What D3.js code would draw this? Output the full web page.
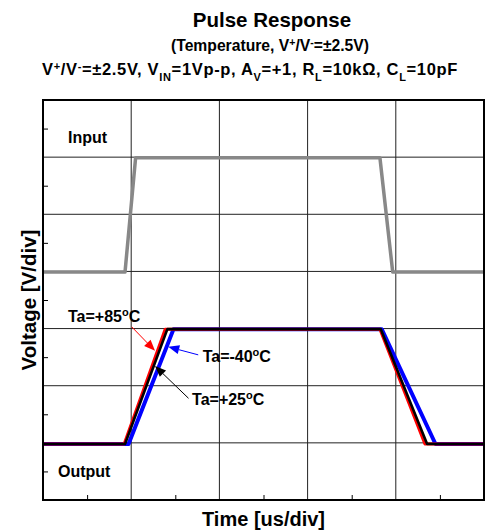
<!DOCTYPE html>
<html><head><meta charset="utf-8">
<script src="https://cdn.jsdelivr.net/npm/d3@7/dist/d3.min.js"></script>
<style>
body{margin:0;background:#fff;}
text{font-family:"Liberation Sans",Arial,Helvetica,sans-serif;font-weight:bold;fill:#000;}
</style></head>
<body><svg id="c" width="489" height="532"></svg>
<script>
// time in divisions, voltage in divisions (bottom = 0)
const inputTrace = [[0,3.99],[0.93,3.99],[1.05,5.99],[3.82,5.99],[3.965,3.99],[5,3.99]];
const out85 = [[0,0.98],[0.92,0.98],[1.385,2.99],[3.82,2.99],[4.33,0.98],[5,0.98]];
const out25 = [[0,0.98],[0.93,0.98],[1.41,2.99],[3.83,2.99],[4.355,0.98],[5,0.98]];
const outM40 = [[0,0.98],[0.97,0.98],[1.48,2.99],[3.84,2.99],[4.45,0.98],[5,0.98]];
const xDivs = [0,1,2,3,4,5];
const yDivs = [0,1,2,3,4,5,6,7];
const xMinor = [0.5,1.5,2.5,3.5,4.5];
const yMinor = [0.5,1.5,2.5,3.5,4.5,5.5,6.5];
const seriesNames = ["Ta=-40°C","Ta=+85°C","Ta=+25°C"];
const seriesColors = ["#0000ff","#ff0000","#000000"];
// annotation: label position and arrow tail/tip in data units
const annotations = [
  {label:"Ta=+85", color:"#ff0000", tx:0.283, ty:3.12, x1:1.006, y1:3.03, x2:1.27, y2:2.61},
  {label:"Ta=-40", color:"#0000ff", tx:1.81, ty:2.415, x1:1.76, y1:2.54, x2:1.42, y2:2.68},
  {label:"Ta=+25", color:"#000000", tx:1.69, ty:1.66, x1:1.65, y1:1.78, x2:1.27, y2:2.345}
];

const svg = d3.select("#c");
const L=43, R=484, T=100, B=500;
const x = d3.scaleLinear().domain([0,5]).range([L,R]);
const y = d3.scaleLinear().domain([0,7]).range([B,T]);

// grid
svg.append("g").selectAll("line").data(xDivs.slice(1,-1)).join("line")
  .attr("x1",d=>x(d)).attr("x2",d=>x(d)).attr("y1",T).attr("y2",B)
  .attr("stroke","#222").attr("stroke-width",1);
svg.append("g").selectAll("line").data(yDivs.slice(1,-1)).join("line")
  .attr("y1",d=>y(d)).attr("y2",d=>y(d)).attr("x1",L).attr("x2",R)
  .attr("stroke","#222").attr("stroke-width",1);
// minor ticks
const axL = d3.axisLeft(y).tickValues(yMinor).tickSize(-5).tickFormat("");
svg.append("g").attr("transform",`translate(${L},0)`).call(axL)
  .call(g=>g.select(".domain").remove()).selectAll("line").attr("stroke","#000").attr("stroke-width",1);
const axB = d3.axisBottom(x).tickValues(xMinor).tickSize(-5).tickFormat("");
svg.append("g").attr("transform",`translate(0,${B})`).call(axB)
  .call(g=>g.select(".domain").remove()).selectAll("line").attr("stroke","#000").attr("stroke-width",1);

const line = d3.line().x(d=>x(d[0])).y(d=>y(d[1]));
svg.append("path").datum(inputTrace).attr("d",line).attr("fill","none")
  .attr("stroke","#888888").attr("stroke-width",3.5).attr("stroke-linejoin","round");
const outs=[outM40,out85,out25], widths=[4,3,2.6];
outs.forEach((s,i)=>{
  svg.append("path").datum(s).attr("d",line).attr("fill","none")
    .attr("stroke",seriesColors[i]).attr("stroke-width",widths[i]).attr("stroke-linejoin","round");
});

// frame
svg.append("rect").attr("x",L).attr("y",T).attr("width",R-L).attr("height",B-T)
  .attr("fill","none").attr("stroke","#000").attr("stroke-width",2);

// arrows
annotations.forEach(a=>{
  const X1=x(a.x1),Y1=y(a.y1),X2=x(a.x2),Y2=y(a.y2);
  const ang=Math.atan2(Y2-Y1,X2-X1), hl=11, hw=4.5;
  const bx=X2-hl*Math.cos(ang), by=Y2-hl*Math.sin(ang);
  svg.append("line").attr("x1",X1).attr("y1",Y1).attr("x2",bx).attr("y2",by)
    .attr("stroke",a.color).attr("stroke-width",1);
  svg.append("path").attr("d",`M${X2},${Y2}L${bx+hw*Math.sin(ang)},${by-hw*Math.cos(ang)}L${bx-hw*Math.sin(ang)},${by+hw*Math.cos(ang)}Z`)
    .attr("fill",a.color);
  const t=svg.append("text").attr("x",x(a.tx)).attr("y",y(a.ty)).style("font-size","16px");
  t.append("tspan").text(a.label);
  t.append("tspan").text("o").attr("dy",-6).style("font-size","11px");
  t.append("tspan").text("C").attr("dy",6);
});

svg.append("text").attr("x",68).attr("y",143).style("font-size","16px").text("Input");
svg.append("text").attr("x",58).attr("y",477).style("font-size","16px").text("Output");

// titles
svg.append("text").attr("x",272).attr("y",27).attr("text-anchor","middle").style("font-size","20.5px").text("Pulse Response");
const t2=svg.append("text").attr("x",270).attr("y",51).attr("text-anchor","middle").style("font-size","15.7px");
t2.append("tspan").text("(Temperature, V");
t2.append("tspan").text("+").attr("dy",-5).style("font-size","10.5px");
t2.append("tspan").text("/V").attr("dy",5);
t2.append("tspan").text("-").attr("dy",-5).style("font-size","10.5px");
t2.append("tspan").text("=±2.5V)").attr("dy",5);
const t3=svg.append("text").attr("x",250).attr("y",75).attr("text-anchor","middle").style("font-size","16.5px");
const parts=[["V",0],["+",-1],["/V",0],["-",-1],["=±2.5V, V",0],["IN",1],["=1Vp-p, A",0],["V",1],["=+1, R",0],["L",1],["=10kΩ, C",0],["L",1],["=10pF",0]];
let prev=0, nch=0;
parts.forEach(([s,k])=>{
  const dy=(k*5.5)-(prev*5.5); prev=k; nch+=s.length;
  const ts=t3.append("tspan").text(s).attr("dy",dy);
  if(k!==0) ts.style("font-size","11px");
});
const w3=t3.node().getComputedTextLength();
t3.style("letter-spacing",((416-w3)/nch)+"px");

svg.append("text").attr("x",(L+R)/2).attr("y",526).attr("text-anchor","middle").style("font-size","20px").text("Time [us/div]");
svg.append("text").attr("transform",`translate(36,${(T+B)/2}) rotate(-90)`).attr("text-anchor","middle").style("font-size","20.5px").text("Voltage [V/div]");
</script></body></html>
